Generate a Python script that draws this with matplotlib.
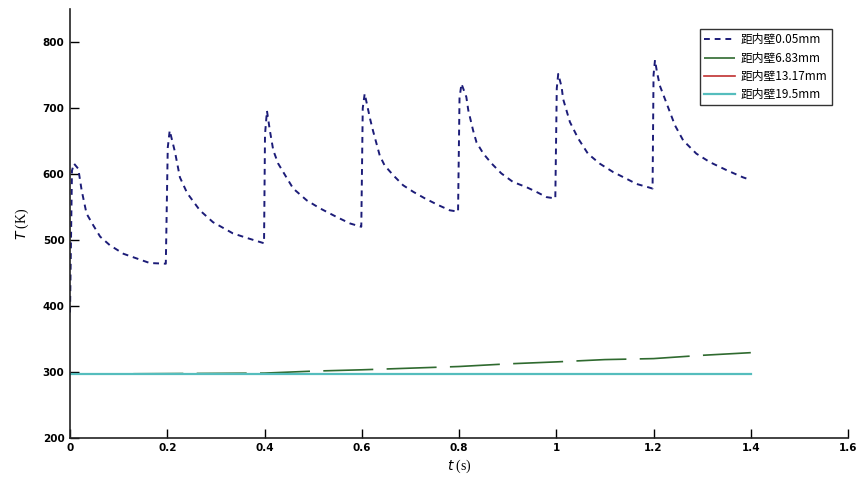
import matplotlib
matplotlib.use("Agg")
import matplotlib.pyplot as plt

# data
# 距内壁0.05mm (sawtooth)
t_a = [0.000, 0.004, 0.008, 0.017, 0.024, 0.034, 0.048, 0.062, 0.082, 0.110, 0.137, 0.164, 0.197,
       0.201, 0.205, 0.216, 0.226, 0.241, 0.267, 0.294, 0.335, 0.364, 0.399,
       0.401, 0.405, 0.411, 0.418, 0.428, 0.445, 0.459, 0.487, 0.514, 0.548, 0.576, 0.599,
       0.602, 0.606, 0.617, 0.623, 0.637, 0.647, 0.665, 0.685, 0.706, 0.730, 0.757, 0.781, 0.798,
       0.801, 0.805, 0.815, 0.819, 0.829, 0.836, 0.850, 0.867, 0.887, 0.911, 0.939, 0.959, 0.980, 0.998,
       1.001, 1.004, 1.011, 1.014, 1.028, 1.045, 1.065, 1.089, 1.117, 1.144, 1.165, 1.189, 1.198,
       1.200, 1.203, 1.207, 1.213, 1.227, 1.244, 1.261, 1.288, 1.316, 1.350, 1.384, 1.400]
T_a = [390, 605, 616, 608, 575, 540, 522, 505, 492, 479, 472, 465, 464,
       640, 666, 633, 595, 571, 545, 527, 510, 503, 495,
       660, 696, 666, 636, 616, 595, 578, 560, 548, 535, 525, 520,
       700, 722, 684, 666, 628, 613, 598, 583, 573, 563, 553, 545, 543,
       715, 737, 717, 697, 666, 648, 631, 616, 601, 588, 580, 573, 565, 563,
       730, 752, 732, 714, 679, 654, 631, 616, 603, 593, 585, 580, 578,
       750, 773, 755, 734, 707, 674, 651, 631, 618, 606, 595, 591]

# 距内壁6.83mm
t_b = [0.0, 0.4, 0.5, 0.6, 0.7, 0.8, 0.9, 1.0, 1.1, 1.2, 1.3, 1.4]
T_b = [296.5, 298, 301, 303, 305.5, 308, 312, 315, 318.5, 320, 325, 329]

# 距内壁13.17mm and 19.5mm
t_c = [0.0, 1.4]
T_c = [296.5, 296.5]
t_d = [0.0, 1.4]
T_d = [296.5, 296.5]

labels = ["距内壁0.05mm", "距内壁6.83mm", "距内壁13.17mm", "距内壁19.5mm"]
x_ticks = [0, 0.2, 0.4, 0.6, 0.8, 1, 1.2, 1.4, 1.6]
x_ticklabels = ["0", "0.2", "0.4", "0.6", "0.8", "1", "1.2", "1.4", "1.6"]
y_ticks = [200, 300, 400, 500, 600, 700, 800]

plt.rcParams['font.family'] = ['Noto Sans CJK SC', 'DejaVu Sans']

fig = plt.figure(figsize=(8.58, 4.86), dpi=100)
ax = fig.add_axes([0.0816, 0.0994, 0.9068, 0.8815])

ax.plot(t_a, T_a, color='#1c1c78', lw=1.4, dashes=(3, 2.5), label=labels[0])
ax.plot(t_b, T_b, color='#2f6a2f', lw=1.2, dashes=(30, 8), label=labels[1])
ax.plot(t_c, T_c, color='#c03030', lw=1.2, label=labels[2])
ax.plot(t_d, T_d, color='#55bdbd', lw=1.6, label=labels[3])

ax.set_xlim(0, 1.6)
ax.set_ylim(200, 850)
ax.set_xticks(x_ticks)
ax.set_xticklabels(x_ticklabels)
ax.set_yticks(y_ticks)

for s in ['top', 'right']:
    ax.spines[s].set_visible(False)
for s in ['left', 'bottom']:
    ax.spines[s].set_linewidth(1.2)
    ax.spines[s].set_color('#222222')

ax.tick_params(direction='in', length=6.5, width=1.0, labelsize=7.5, pad=4)
for lab in ax.get_xticklabels() + ax.get_yticklabels():
    lab.set_fontweight('bold')
    lab.set_family('DejaVu Sans')

ax.set_xlabel("$t$ (s)", family='Liberation Serif', fontsize=10, labelpad=3)
ax.set_ylabel("$T$ (K)", family='Liberation Serif', fontsize=10, labelpad=8)

leg = ax.legend(loc='upper right', bbox_to_anchor=(0.976, 0.952), bbox_transform=fig.transFigure,
                fontsize=8.5, frameon=True, fancybox=False, handlelength=2.6,
                labelspacing=0.45, borderpad=0.35, handletextpad=0.5)
leg.get_frame().set_edgecolor('black')
leg.get_frame().set_linewidth(1.0)

fig.savefig("out.png", dpi=100)
